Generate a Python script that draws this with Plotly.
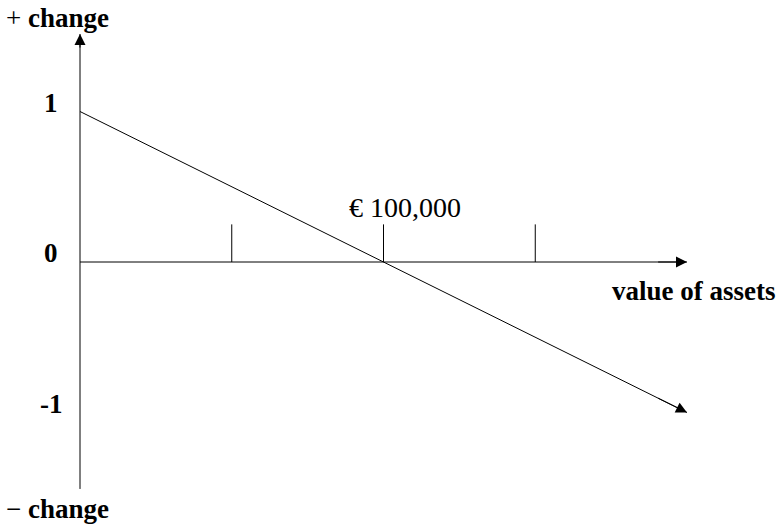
import plotly.graph_objects as go

# data
line_x = [0, 200000]
line_y = [1, -1]
tick_vals = [50000, 100000, 150000]
tick_height = 0.25
y_labels = [1, 0, -1]
x_axis_end = 200000
y_axis_top = 1.515
y_axis_bottom = -1.508
marked_value = 100000
marked_label = "€ 100,000"

FONT = "Liberation Serif"
W, H = 777, 525
# plot area spans the full canvas; origin at (80, 262) px
PX_X = 303.5 / 100000.0
PX_Y = 150.5
x_range = [-80 / PX_X, (W - 80) / PX_X]
y_range = [(262 - H) / PX_Y, 262 / PX_Y]

fig = go.Figure()

def seg(xs, ys):
    fig.add_trace(go.Scatter(x=xs, y=ys, mode="lines",
                             line=dict(color="black", width=1), hoverinfo="skip",
                             showlegend=False))

seg(line_x, line_y)                       # main line
seg([0, x_axis_end], [0, 0])              # x axis
seg([0, 0], [y_axis_bottom, y_axis_top])  # y axis
for tv in tick_vals:
    seg([tv, tv], [0, tick_height])

anns = []

def arrow(x, y, ax, ay):
    anns.append(dict(x=x, y=y, ax=ax, ay=ay, xref="x", yref="y", axref="x", ayref="y",
                     showarrow=True, arrowhead=2, arrowsize=2.2, arrowwidth=1,
                     arrowcolor="black", text=""))

arrow(x_axis_end, 0, x_axis_end * 0.95, 0)
arrow(0, y_axis_top, 0, y_axis_top - 0.1)
arrow(line_x[-1], line_y[-1], line_x[-1] - 10000, line_y[-1] + 0.1)

# y labels (baseline at value)
for v in y_labels:
    anns.append(dict(x=0, y=v, xref="x", yref="y", text=f"<b>{v}</b>", showarrow=False,
                     xanchor="center", yanchor="middle", xshift=-29, yshift=9,
                     font=dict(family=FONT, size=27, color="black")))

# marked value label
anns.append(dict(x=marked_value, y=0, xref="x", yref="y", text=marked_label,
                 showarrow=False, xanchor="center", yanchor="middle", yshift=55, xshift=21,
                 font=dict(family=FONT, size=28, color="black")))

# axis titles
anns.append(dict(x=x_axis_end, y=0, xref="x", yref="y", text="<b>value of assets</b>",
                 showarrow=False, xanchor="center", yanchor="middle", xshift=7, yshift=-29,
                 font=dict(family=FONT, size=27, color="black")))
anns.append(dict(x=0, y=1, xref="paper", yref="paper", text="+ <b>change</b>",
                 showarrow=False, xanchor="left", yanchor="middle", xshift=4, yshift=-18,
                 font=dict(family=FONT, size=27, color="black")))
anns.append(dict(x=0, y=0, xref="paper", yref="paper", text="− <b>change</b>",
                 showarrow=False, xanchor="left", yanchor="middle", xshift=4, yshift=16,
                 font=dict(family=FONT, size=27, color="black")))

fig.update_layout(
    width=W, height=H,
    margin=dict(l=0, r=0, t=0, b=0),
    paper_bgcolor="white", plot_bgcolor="white",
    xaxis=dict(range=x_range, visible=False, fixedrange=True),
    yaxis=dict(range=y_range, visible=False, fixedrange=True),
    annotations=anns,
    showlegend=False,
)

fig.write_html("out.html", config={"displayModeBar": False},
               post_script="document.body.style.margin='0';document.body.style.padding='0';")
